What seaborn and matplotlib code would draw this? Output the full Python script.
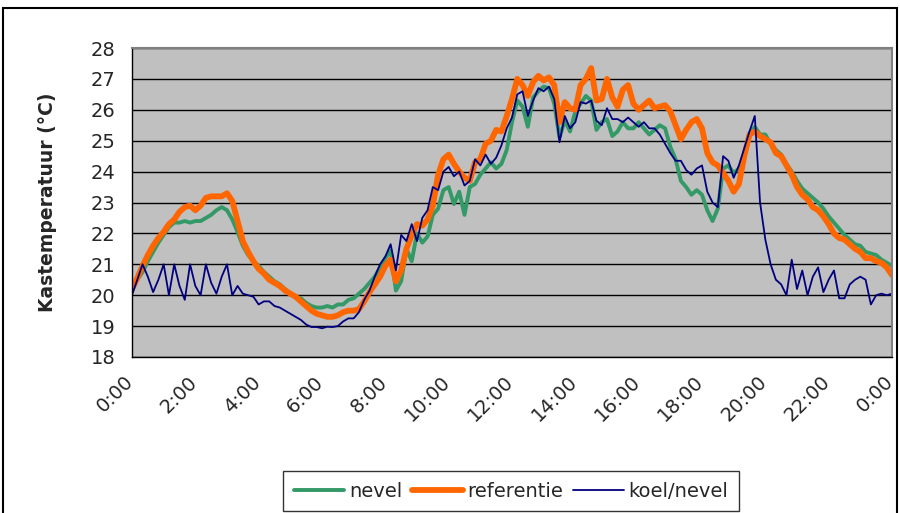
import numpy as np
import pandas as pd
import matplotlib
matplotlib.use("Agg")
import matplotlib.pyplot as plt
from matplotlib.lines import Line2D
from matplotlib.patches import Rectangle
from matplotlib.transforms import ScaledTranslation
import seaborn as sns

# Kastemperatuur per 10 minuten over één etmaal (0:00 - 24:00)
nevel = [
    20.2, 20.5, 20.75, 21.1, 21.4, 21.7,
    21.95, 22.2, 22.35, 22.35, 22.4, 22.35,
    22.4, 22.4, 22.5, 22.6, 22.75, 22.85,
    22.75, 22.45, 22.05, 21.6, 21.3, 21.1,
    20.95, 20.75, 20.6, 20.45, 20.35, 20.2,
    20.05, 19.95, 19.9, 19.75, 19.65, 19.6,
    19.6, 19.65, 19.6, 19.7, 19.7, 19.85,
    19.9, 20.05, 20.2, 20.4, 20.6, 20.9,
    21.2, 21.45, 20.15, 20.45, 21.5, 21.1,
    22.0, 21.7, 21.9, 22.6, 22.8, 23.4,
    23.5, 22.95, 23.35, 22.6, 23.5, 23.6,
    23.9, 24.1, 24.3, 24.1, 24.25, 24.7,
    25.6, 26.3, 26.1, 25.45, 26.4, 26.6,
    26.75, 26.7, 26.2, 25.1, 25.65, 25.3,
    25.95, 26.2, 26.45, 26.3, 25.35, 25.6,
    25.7, 25.15, 25.3, 25.6, 25.4, 25.4,
    25.6, 25.4, 25.2, 25.35, 25.5, 25.4,
    24.8, 24.4, 23.7, 23.5, 23.25, 23.4,
    23.25, 22.75, 22.4, 22.8, 24.1, 24.2,
    23.95, 24.1, 24.6, 25.25, 25.45, 25.2,
    25.2, 24.9, 24.7, 24.55, 24.25, 24.0,
    23.7, 23.45, 23.3, 23.15, 23.0, 22.8,
    22.55, 22.35, 22.15, 21.95, 21.8, 21.65,
    21.6, 21.4, 21.35, 21.3, 21.15, 21.05,
    20.95,
]

referentie = [
    20.2, 20.55, 20.95, 21.3, 21.6, 21.85,
    22.05, 22.3, 22.45, 22.7, 22.85, 22.9,
    22.75, 22.9, 23.15, 23.2, 23.2, 23.2,
    23.3, 23.05, 22.4, 21.75, 21.4, 21.1,
    20.85, 20.7, 20.5, 20.4, 20.3, 20.15,
    20.05, 19.95, 19.8, 19.65, 19.5, 19.4,
    19.35, 19.3, 19.3, 19.35, 19.45, 19.5,
    19.5, 19.55, 19.8, 20.1, 20.35, 20.6,
    20.95, 21.15, 20.45, 20.8, 21.5, 21.95,
    22.3, 22.25, 22.45, 22.9, 23.9, 24.4,
    24.55, 24.25, 24.0, 23.8, 23.7, 24.3,
    24.4, 24.9, 25.0, 25.35, 25.3, 25.8,
    26.35, 27.0, 26.8, 26.45, 26.9, 27.1,
    26.95, 27.05, 26.8, 25.6, 26.25, 26.05,
    26.0, 26.8, 27.0, 27.35, 26.3, 26.35,
    27.0, 26.4, 26.1, 26.65, 26.8, 26.2,
    26.0, 26.15, 26.3, 26.05, 26.1, 26.15,
    25.95, 25.5, 25.05, 25.35, 25.6, 25.7,
    25.4, 24.6, 24.3, 24.2, 23.95, 23.7,
    23.35, 23.6, 24.5, 25.2, 25.3, 25.15,
    25.05, 24.95, 24.6, 24.5, 24.2, 23.9,
    23.5, 23.25, 23.1, 22.85, 22.75, 22.55,
    22.3, 22.0, 21.85, 21.8, 21.65, 21.5,
    21.4, 21.2, 21.2, 21.1, 21.05, 20.9,
    20.65,
]

koel_nevel = [
    20.0, 20.5, 21.0, 20.6, 20.1, 20.5,
    21.0, 20.0, 21.0, 20.3, 19.85, 21.0,
    20.3, 20.0, 21.0, 20.4, 20.05, 20.6,
    21.0, 20.0, 20.3, 20.05, 20.0, 19.95,
    19.7, 19.8, 19.8, 19.65, 19.6, 19.5,
    19.4, 19.3, 19.2, 19.05, 18.97, 18.97,
    18.93, 18.98, 18.97, 19.0, 19.15, 19.25,
    19.25, 19.45, 19.85, 20.15, 20.6, 21.0,
    21.25, 21.65, 20.8, 21.95, 21.75, 22.3,
    21.75, 22.5, 22.75, 23.5, 23.4, 24.0,
    24.15, 23.85, 24.0, 23.55, 23.7, 24.4,
    24.2, 24.55, 24.25, 24.45, 24.85, 25.4,
    25.75, 26.5, 26.6, 25.8, 26.3, 26.7,
    26.6, 26.75, 26.35, 24.95, 25.8, 25.4,
    25.6, 26.25, 26.2, 26.3, 25.65, 25.5,
    26.05, 25.7, 25.7, 25.6, 25.75, 25.6,
    25.45, 25.6, 25.4, 25.4, 25.2, 24.9,
    24.6, 24.35, 24.35, 24.05, 23.9, 24.1,
    24.2, 23.35, 23.0, 22.85, 24.5, 24.35,
    23.8, 24.2, 24.75, 25.3, 25.8, 23.0,
    21.8, 21.0, 20.5, 20.35, 20.0, 21.15,
    20.2, 20.8, 20.0, 20.6, 20.9, 20.1,
    20.5, 20.8, 19.9, 19.9, 20.35, 20.5,
    20.6, 20.5, 19.7, 20.0, 20.05, 20.0,
    20.05,
]

tijd_uur = np.arange(len(nevel)) / 6.0  # uren sinds middernacht, stap 10 minuten
tick_uren = list(range(0, 25, 2))
tick_labels = ["0:00", "2:00", "4:00", "6:00", "8:00", "10:00", "12:00",
               "14:00", "16:00", "18:00", "20:00", "22:00", "0:00"]

reeksen = ["nevel", "referentie", "koel/nevel"]
kleuren = {"nevel": "#339966", "referentie": "#FF6600", "koel/nevel": "#000080"}
dikte = {"nevel": 2.8, "referentie": 4.2, "koel/nevel": 1.3}

df = pd.DataFrame({
    "tijd": np.concatenate([tijd_uur] * 3),
    "temperatuur": np.concatenate([nevel, referentie, koel_nevel]),
    "reeks": np.repeat(reeksen, len(tijd_uur)),
})

sns.set_style("white")
plt.rcParams["font.family"] = ["DejaVu Sans"]

W, H = 900, 513
fig = plt.figure(figsize=(W / 100, H / 100), dpi=100)
fig.patch.set_facecolor("white")
ax = fig.add_axes([132 / W, 1 - 357 / H, 760 / W, 309 / H])
ax.set_facecolor("#C0C0C0")

for naam in reeksen:
    sns.lineplot(data=df[df["reeks"] == naam], x="tijd", y="temperatuur",
                 color=kleuren[naam], linewidth=dikte[naam], ax=ax,
                 legend=False, solid_joinstyle="round")

ax.set_xlim(0, 24)
ax.set_ylim(18, 28)
ax.set_yticks(range(18, 29))
ax.set_xticks(tick_uren)
ax.set_xticklabels(tick_labels, rotation=45, ha="right", rotation_mode="anchor")
ax.tick_params(axis="y", labelsize=14, length=6, width=1, color="black",
               direction="out", pad=6)
ax.tick_params(axis="x", labelsize=14, length=6, width=1, color="black",
               direction="out", pad=5)
# schuif de schuine labels iets naar links zodat ze eindigen bij de tick
verschuiving = ScaledTranslation(-8 / 100, 0, fig.dpi_scale_trans)
for lbl in ax.get_xticklabels():
    lbl.set_transform(lbl.get_transform() + verschuiving)

ax.yaxis.grid(True, color="black", linewidth=1)
ax.xaxis.grid(False)
ax.set_axisbelow(True)

for s in ("left", "bottom"):
    ax.spines[s].set_color("black")
    ax.spines[s].set_linewidth(1)
for s in ("top", "right"):
    ax.spines[s].set_color("#808080")
    ax.spines[s].set_linewidth(1.5)

ax.set_xlabel("")
ax.set_ylabel("Kastemperatuur (°C)", fontsize=13.5, fontweight="bold")
ax.yaxis.set_label_coords((57 - 132) / 760, 0.5)

handles = [Line2D([], [], color=kleuren[n], linewidth=dikte[n]) for n in reeksen]
leg = fig.legend(handles, reeksen, loc="upper center", ncol=3,
                 bbox_to_anchor=(511 / W, 1 - 471 / H), fontsize=14,
                 frameon=True, fancybox=False, edgecolor="black",
                 handlelength=2.6, handletextpad=0.25, columnspacing=0.5,
                 borderpad=0.55, borderaxespad=0)
leg.get_frame().set_linewidth(1)

# kader rond het hele diagram
fig.patches.append(Rectangle((3 / W, -0.05), (897 - 3) / W, 1.05 - 8 / H,
                             transform=fig.transFigure, fill=False,
                             edgecolor="black", linewidth=1.5))

fig.savefig("out.png", dpi=100)
